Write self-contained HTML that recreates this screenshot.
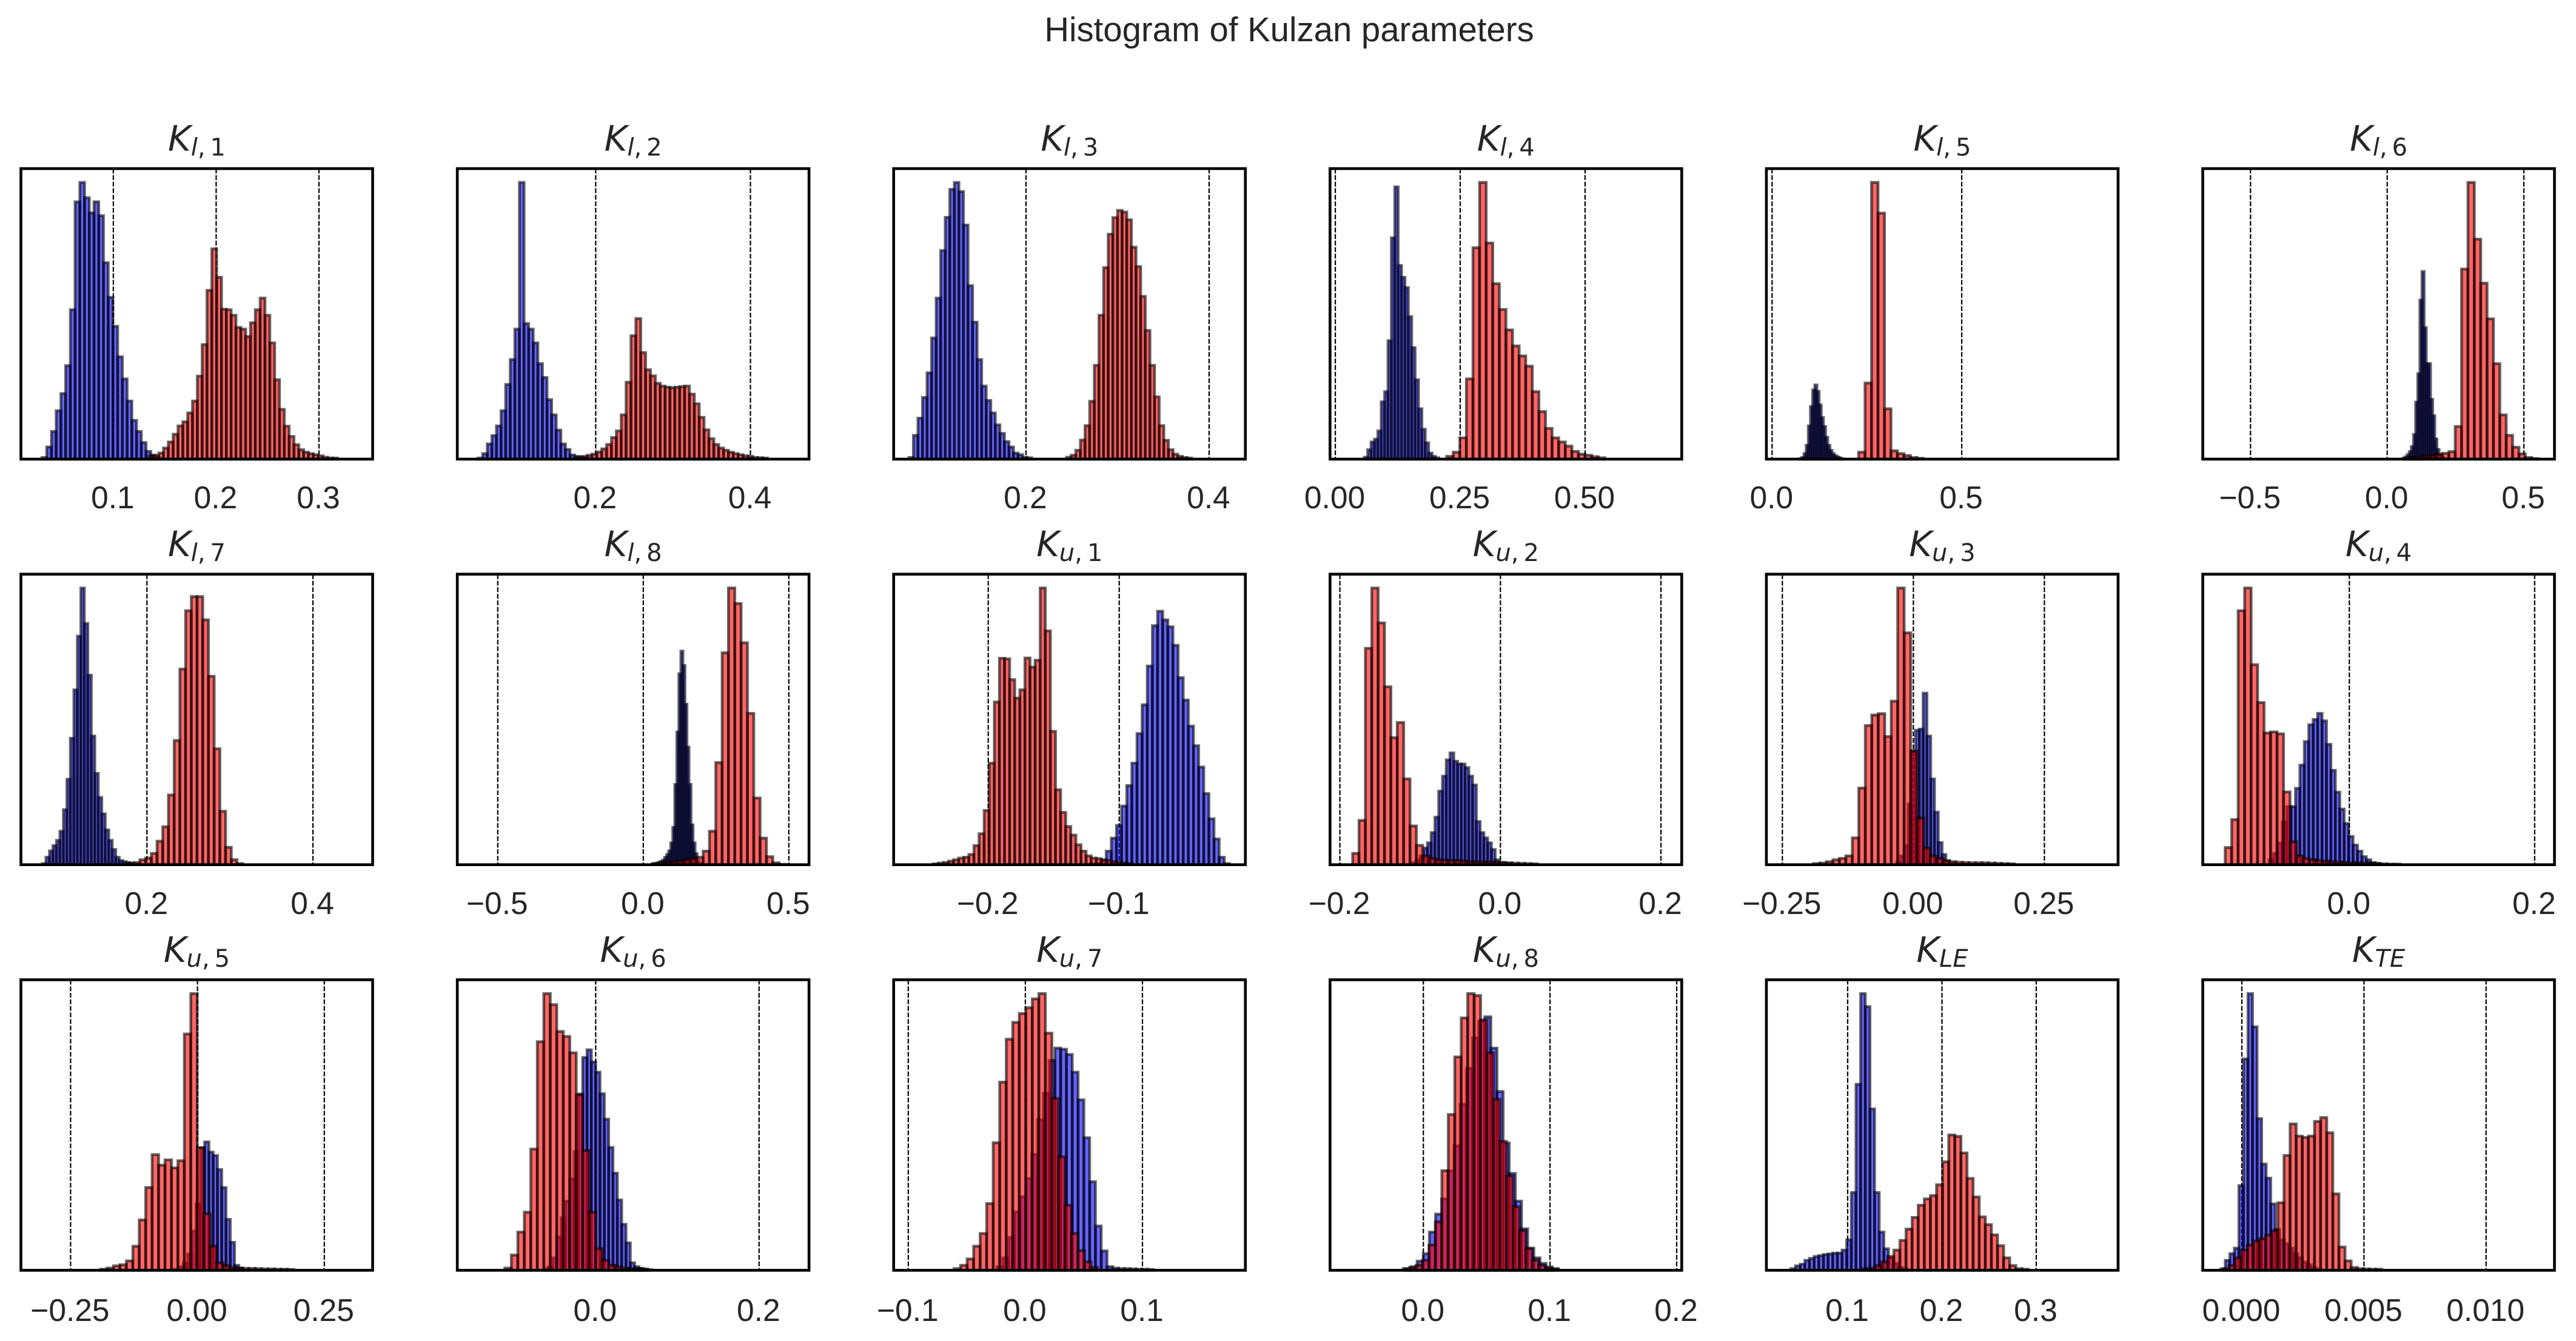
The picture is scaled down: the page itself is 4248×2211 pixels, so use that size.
<!DOCTYPE html>
<html lang="en">
<head>
<meta charset="utf-8">
<title>Histogram of Kulzan parameters</title>
<style>
html,body{margin:0;padding:0;background:#fff;}
svg{display:block;}
.tick{font-family:"Liberation Sans",Arial,sans-serif;font-size:51.5px;fill:#262626;text-anchor:middle;}
.ptitle{font-family:"DejaVu Sans",sans-serif;font-size:57.5px;fill:#262626;text-anchor:middle;}
</style>
</head>
<body>
<svg id="fig" xmlns="http://www.w3.org/2000/svg" width="4248" height="2211" viewBox="0 0 4248 2211">
<rect x="0" y="0" width="4248" height="2211" fill="#fff"/>
<text x="2126" y="68" text-anchor="middle" font-family="Liberation Sans, Arial, sans-serif" font-size="56.3" fill="#262626">Histogram of Kulzan parameters</text>
</svg>
<script>
const subLetters = ['l','l','l','l','l','l','l','l','u','u','u','u','u','u','u','u','LE','TE'];
const subIndices = ['1','2','3','4','5','6','7','8','1','2','3','4','5','6','7','8','',''];

const tickValues = [
 [0.1,0.2,0.3],[0.2,0.4],[0.2,0.4],[0,0.25,0.5],[0,0.5],[-0.5,0,0.5],
 [0.2,0.4],[-0.5,0,0.5],[-0.2,-0.1],[-0.2,0,0.2],[-0.25,0,0.25],[0,0.2],
 [-0.25,0,0.25],[0,0.2],[-0.1,0,0.1],[0,0.1,0.2],[0.1,0.2,0.3],[0,0.005,0.01]
];
const tickLabels = [
 ['0.1','0.2','0.3'],['0.2','0.4'],['0.2','0.4'],['0.00','0.25','0.50'],['0.0','0.5'],['\u22120.5','0.0','0.5'],
 ['0.2','0.4'],['\u22120.5','0.0','0.5'],['\u22120.2','\u22120.1'],['\u22120.2','0.0','0.2'],['\u22120.25','0.00','0.25'],['0.0','0.2'],
 ['\u22120.25','0.00','0.25'],['0.0','0.2'],['\u22120.1','0.0','0.1'],['0.0','0.1','0.2'],['0.1','0.2','0.3'],['0.000','0.005','0.010']
];
const xMin = [0.0101,0.0211,0.0555,-0.0106,-0.015,-0.6748,0.0482,-0.639,-0.2722,-0.2123,-0.2805,-0.1582,-0.3479,-0.1694,-0.1125,-0.0737,0.0138,-0.0016];
const xMax = [0.3522,0.4757,0.4396,0.6935,0.9123,0.612,0.4719,0.5693,-0.0037,0.2259,0.3907,0.2214,0.3452,0.2611,0.1879,0.204,0.3868,0.0128];

const blueBinStart = [0.0306,0.048,0.0721,0.058,0.0727,0.0572,0.0742,0.0316,-0.1217,-0.1097,-0.0319,-0.0868,-0.0448,-0.0636,-0.0243,-0.01464,0.0398,-0.000864];
const blueBinWidth = [0.0046,0.00594,0.00497,0.00678,0.0057,0.0078,0.0042,0.00697,0.00392,0.00469,0.00722,0.00478,0.00842,0.0053,0.00495,0.00485,0.00493,0.000186];
const redBinStart = [0.1347,0.1763,0.2443,0.2228,0.228,0.0623,0.1778,0.0316,-0.242,-0.1841,-0.1907,-0.134,-0.1908,-0.1112,-0.0609,-0.016,0.1166,-0.000774];
const redBinWidth = [0.0047,0.0063,0.00506,0.0132,0.0171,0.02332,0.00688,0.02175,0.00389,0.00794,0.01237,0.007,0.01269,0.00795,0.00557,0.0051,0.00647,0.00025];

const blueKl1 = [0.6,4.4,10,17.5,23.7,33.8,54,93,100,94.5,89,93,88,71,58.5,48,37,29,21,14,10,6,2.8,1.5,0.5];
const redKl1 = [1,1.2,2.2,4,6.2,9,12,13.5,16.7,21,30,41.4,61,76,65.7,54.2,54,52,47.6,47,44.3,49.3,54,58.2,52,42,28.7,18,11.9,8.2,5.2,3.4,2.5,2,1.6,1.2,0.7,0.4,0.4];
const blueKl2 = [0.4,2,5.5,8.5,12,17.5,27,36,47,100,49,47,42,34.5,29.5,21.5,16,10.5,5.5,3.5,1.5,1,0.6,0.4];
const redKl2 = [0.7,1,1.4,1.8,2.6,3.7,5.3,7.8,10.2,16,27.8,44.6,50.8,38.5,32.3,30.1,27.4,26.4,26,25.8,26,26.2,26.4,23.5,20,15.1,10.6,7.4,5.3,4,3.2,2.5,2,1.6,1.2,1,0.6,0.5,0.4];
const blueKl3 = [0.6,8.6,14.8,22.3,31.2,43.8,58.2,75.4,87.4,97.5,100,96.7,84.6,62.7,49.5,36,26.4,21.2,16.7,12.4,9.3,6.3,4.4,2.2,1.6,0.7,0.5];
const redKl3 = [0.7,1.4,3.2,6.9,12.1,20.9,33.9,52,69.2,81.3,87.3,89.9,89.3,86.5,76.6,69.6,58.8,46.5,33.9,22.5,12.1,6.8,3.4,1.8,1,0.6,0.4];
const blueKl4 = [0.7,3.4,6.2,7.2,10.2,20.7,24.4,42.8,80,98.4,70,65.7,62,51.5,40.3,28.7,18.2,10.8,5.9,2.2,1,0.5];
const redKl4 = [1,2.5,7.7,29,76.4,100,78.1,63.4,54.1,46.7,40.9,37.3,33.6,24.4,17.2,11.1,7.7,6.2,4.7,2.8,1.8,1.4,0.9,0.5];
const blueKl5 = [0.2,0.6,2,5,12,19,25,26.8,24.5,19.6,15,11.8,7.9,5,3.2,2,1.3,0.8,0.5,0.2];
const redKl5 = [2.5,27.5,100,88.9,18.2,3,2,1.3,0.6,0.3];
const blueKl6 = [0.3,0.8,1.6,2.7,4.5,8.9,20.6,30.9,57.5,67.8,47.5,34.5,34.5,21.6,15.7,7.3,3.5,1.6,0.6,0.3];
const redKl6 = [0.3,0.6,0.8,1.1,1.3,1.7,2.1,2.7,11.8,68.7,100,79.5,63.6,50.7,34.5,16,8.6,4.3,1.9,0.6,0.2];
const blueKl7 = [0.4,2.7,5,6.9,8.8,12.1,19.9,30.9,45.7,63.2,82.6,100,87.2,68.5,46.5,33,24.3,18.4,12.6,8.8,5.5,2.7,1.5,1.1,0.8,0.6];
const redKl7 = [0.4,0.8,1.8,2.4,4.1,8.5,13.7,25.2,44.9,70.7,91.8,96.9,96.9,88.5,68.1,41.9,19.3,6.3,1.8,0.4];
const blueKl8 = [0.3,0.4,0.6,0.9,1.2,1.7,2.7,3.7,5,7.9,13.5,29,48,69,77.2,72,58,42.5,29,14.4,7.9,4,1.5,0.4];
const redKl8 = [0.4,0.6,0.8,1.1,1.3,1.8,2.2,2.7,4.9,12.1,36.9,76.6,100,94.4,80.2,54.7,24.1,9.6,2.9,0.7,0.1];
const blueKu1 = [0.3,0.6,1.5,4.9,9.6,14.2,21.2,28.6,36.7,47.4,57.8,71.8,86.4,91.6,88.5,86,79.3,67.6,59.5,50.1,43,35.3,25.7,16.6,9.3,2.7,0.4];
const redKu1 = [0.3,0.6,0.8,1.3,1.8,2.4,2.7,3.7,6.9,11.2,19.6,36.7,58.8,74.6,74.4,66.9,60.2,63.2,74.7,71.4,73.9,100,84.5,48.2,27.1,18.9,13.8,10.7,7.2,4.9,3.2,2.4,2.2,1.8,1.5,1.1,0.8,0.6,0.4];
const blueKu2 = [0.8,1.8,3.2,6,7.9,11.6,17.2,26.6,32,37.9,40.4,37.4,36.4,36.4,35.1,32,28.8,15.6,11.6,9.7,7.9,5.5,1.8,0.8,0.6,0.4];
const redKu2 = [4.1,16,78.2,100,87.4,64.3,45.9,51.4,31,14,7,3.2,2.3,1.8,1.6,1.5,1.5,1.3,1.1,1.1,1,0.9,0.8,0.8,0.7,0.6,0.5,0.4,0.3];
const blueKu3 = [0.8,3.2,6.9,22,41.1,48.6,49,62,46.5,31,19,8,3.7,1.3,0.6];
const redKu3 = [0.4,0.6,1.1,1.8,2.3,3.2,9.7,27.7,50.3,54.1,54.6,46.3,59.1,100,83.8,41.1,16.8,6,3.2,2.3,1.5,1.1,0.9,0.8,0.7,0.7,0.7,0.6,0.5,0.4,0.3];
const blueKu4 = [1.8,4.1,7.9,15.4,21,21,27.6,36,44.5,50.6,52.5,54.7,52,43.5,34.1,26.2,20.1,14.9,10.2,7.1,4.9,2.9,1.8,0.8,0.5];
const redKu4 = [6.2,16.3,91.8,100,72.3,58.6,47.6,48,47.3,26.3,8.3,3.2,2.2,1.8,1.5,1.3,1.1,1,0.8,0.7,0.7,0.6,0.5,0.4,0.3,0.2,0.2];
const blueKu5 = [0.4,1.3,2.5,5.9,14.2,24,44.3,46.4,42.7,41.5,36.4,29.9,18.4,10.1,1.8,0.8];
const redKu5 = [0.4,0.8,1.6,2,3.4,8.7,18.2,29.9,41.8,38,39.9,37,39.6,85.4,100,44.3,20.4,8.7,2.7,1.7,1,0.8,0.7,0.7,0.6,0.5,0.5,0.4,0.4,0.3];
const blueKu6 = [0.6,1.3,4.5,12,19,25,33,43,63.7,76.9,79.7,75.3,71.6,63.8,54.6,44.4,35.1,25.4,16.6,9.9,2.7,1.3,0.7,0.4,0.2];
const redKu6 = [0.8,5.5,13.8,21,43.8,82.6,100,96,86.3,84.5,78.6,63.4,43.3,21,7.8,3.6,1.8,1.3,0.8,0.6,0.6,0.4];
const blueKu7 = [1.3,4.5,11.9,21.1,26.6,33.2,41.9,54.4,63.9,75.9,80.3,79.9,78,71.6,61.6,47.9,32,16,7,1.3,0.8,0.6,0.6,0.5,0.4,0.4,0.3];
const redKu7 = [0.6,1.8,4.1,8.7,13.3,24.1,46.1,68,83.5,89.6,92.8,94.9,98.1,100,85.7,62.1,41,23.5,13.3,7.1,3,1];
const blueKu8 = [0.6,1.3,3.3,6,13.8,20.3,25.8,36,45,60,73,84,90,91.6,80.3,64.6,46,35,25,15,8,4.5,2.5,1.2,0.6];
const redKu8 = [0.6,1,1.8,3.6,9.1,17.5,36,56.3,77.1,91.2,100,99.3,90.5,78.6,61.8,46.6,34.1,23,14.3,7.8,3.6,1.8,0.8,0.4];
const blueKLE = [0.6,1.6,2.2,3.6,4.3,5,5.3,5.7,5.9,6.2,6.2,7.3,11,28.1,67.2,100,95.3,58.3,28.1,13.8,7.8,4.5,2.5,1,0.6];
const redKLE = [0.6,0.8,1.7,3.1,5,7.3,10.8,14.9,19.1,23.5,25.8,27,30.9,39.2,48.9,48.4,42.4,33.2,26.5,19.3,16.5,12.8,8.9,4.5,1.7,0.6,0.4];
const blueKTE = [0.5,3.6,6,8,30.6,76.4,100,88,54.8,38.4,33.3,24,14.8,11,9.6,8,6,4.5,3,2,1,0.5];
const redKTE = [0.6,1.7,4.5,7.3,9.1,10.6,11.4,12.7,14.3,24.4,41.5,52.9,48.5,48,48.5,53.8,55.2,49.7,27.6,8.4,3.4,1,0.6,0.5,0.4,0.4];

const blueSeries = [blueKl1,blueKl2,blueKl3,blueKl4,blueKl5,blueKl6,blueKl7,blueKl8,blueKu1,blueKu2,blueKu3,blueKu4,blueKu5,blueKu6,blueKu7,blueKu8,blueKLE,blueKTE];
const redSeries = [redKl1,redKl2,redKl3,redKl4,redKl5,redKl6,redKl7,redKl8,redKu1,redKu2,redKu3,redKu4,redKu5,redKu6,redKu7,redKu8,redKLE,redKTE];

const NS = 'http://www.w3.org/2000/svg';
const fig = document.getElementById('fig');
const axW = 580, axH = 479;
const axLeft0 = 34.5, axStepX = 719.6, axTop0 = 278, axStepY = 668.7;
const labelGap = [81.2, 81.2, 83.4];

function make(tag, attrs, parent) {
  const el = document.createElementNS(NS, tag);
  for (const k in attrs) el.setAttribute(k, attrs[k]);
  parent.appendChild(el);
  return el;
}
function xScale(i, left) {
  return v => left + (v - xMin[i]) / (xMax[i] - xMin[i]) * axW;
}
function yScale(top, ymax) {
  return v => top + axH - v / ymax * axH;
}
function drawBars(group, values, start, width, color, x, y, name) {
  values.forEach((v, k) => {
    const x0 = x(start + k * width), x1 = x(start + (k + 1) * width), yt = y(v), yb = y(0);
    const r = make('rect', {x: x0, y: yt, width: x1 - x0, height: yb - yt, fill: color, 'fill-opacity': 0.6, stroke: '#000', 'stroke-opacity': 0.6, 'stroke-width': 4.6}, group);
    
    
  });
}

subLetters.forEach((sub, i) => {
  const col = i % 6, row = Math.floor(i / 6);
  const left = axLeft0 + col * axStepX, top = axTop0 + row * axStepY, bottom = top + axH;
  const blue = blueSeries[i], red = redSeries[i];
  const ymax = Math.max(Math.max.apply(null, blue), Math.max.apply(null, red)) * 1.05;
  const x = xScale(i, left), y = yScale(top, ymax);

  const panel = make('g', {}, fig);
  
  

  tickValues[i].forEach((t, k) => {
    const g = make('line', {x1: x(t), x2: x(t), y1: top, y2: bottom, stroke: '#000', 'stroke-width': 2.2, 'stroke-dasharray': '8 2.8'}, panel);
    
    
    const lab = make('text', {x: x(t) - 1, y: bottom + labelGap[row], class: 'tick'}, panel);
    lab.textContent = tickLabels[i][k];
    
    
  });

  const blueG = make('g', {}, panel);
  
  
  drawBars(blueG, blue, blueBinStart[i], blueBinWidth[i], '#0000ff', x, y, 'blue-bar');

  const redG = make('g', {}, panel);
  
  
  drawBars(redG, red, redBinStart[i], redBinWidth[i], '#ff0000', x, y, 'red-bar');

  const frame = make('rect', {x: left, y: top, width: axW, height: axH, fill: 'none', stroke: '#000', 'stroke-width': 4.6}, panel);
  
  

  const title = make('text', {x: left + axW / 2, y: top - 29.5, class: 'ptitle'}, panel);
  
  
  const a = make('tspan', {'font-style': 'italic'}, title);
  a.textContent = 'K';
  const b = make('tspan', {'font-style': 'italic', 'font-size': 40, dy: 8}, title);
  b.textContent = sub;
  if (subIndices[i]) {
    const c = make('tspan', {'font-size': 40}, title);
    c.textContent = ',\u2009' + subIndices[i];
  }
});
</script>
</body>
</html>
